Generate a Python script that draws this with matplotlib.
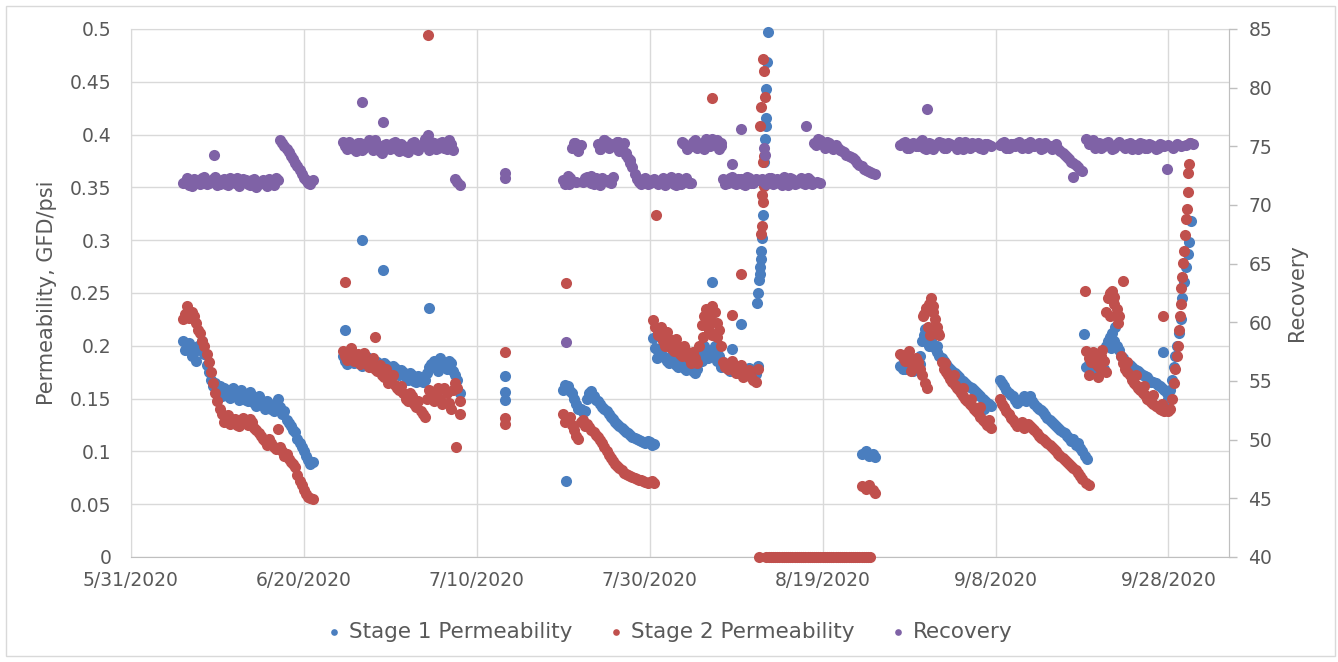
import numpy as np
import pandas as pd
import matplotlib
matplotlib.use("Agg")
import matplotlib.pyplot as plt
from matplotlib.patches import Rectangle

# ---- data (days counted from 5/31/2020) ----
start_date = "2020-05-31"
end_date = "2020-10-05"

seg_a_days = [6.0, 6.5, 7.0, 7.5, 8.0, 8.5, 9.0, 9.5, 10.0, 10.5, 11.0, 11.5, 12.0, 12.5, 13.0, 13.5,
              14.0, 14.5, 15.0, 15.5, 16.0, 16.5, 17.0, 17.5, 18.0, 18.5, 19.0, 19.5, 20.0, 20.5, 21.0]
seg_a_stage1 = [0.205, 0.198, 0.19, 0.186, 0.198, 0.192, 0.175, 0.162, 0.158, 0.152, 0.158, 0.151, 0.157, 0.149,
                0.155, 0.148, 0.152, 0.143, 0.149, 0.14, 0.145, 0.138, 0.15, 0.135, 0.13, 0.124, 0.118, 0.108,
                0.1, 0.092, 0.09]
seg_a_stage2 = [0.225, 0.238, 0.232, 0.222, 0.212, 0.2, 0.185, 0.165, 0.148, 0.135, 0.13, 0.126, 0.131, 0.124,
                0.132, 0.125, 0.128, 0.12, 0.115, 0.11, 0.112, 0.104, 0.121, 0.1, 0.098, 0.09, 0.085, 0.072,
                0.063, 0.057, 0.055]
seg_a_recovery = [71.9, 72.3, 71.6, 72.1, 71.8, 72.4, 71.9, 72.2, 71.7, 72.1, 71.8, 72.3, 71.9, 71.6, 72.2,
                  71.8, 72.1, 71.5, 72.0, 71.9, 72.2, 71.7, 72.1, 75.3, 74.8, 74.2, 73.6, 73.0, 72.3, 71.9, 72.1]
seg_a2_days = [6.25, 6.75, 7.25, 7.75, 8.25, 8.75, 9.25, 9.75, 10.25, 10.75, 11.25, 11.75, 12.25, 12.75,
               13.25, 13.75, 14.25, 14.75, 15.25, 15.75, 16.25, 16.75, 17.25, 17.75, 18.25, 18.75, 19.25,
               19.75, 20.25, 20.75]
seg_a2_stage1 = [0.196, 0.203, 0.194, 0.2, 0.205, 0.182, 0.168, 0.165, 0.162, 0.16, 0.152, 0.16, 0.152, 0.158,
                 0.149, 0.156, 0.146, 0.152, 0.144, 0.148, 0.14, 0.146, 0.142, 0.138, 0.127, 0.12, 0.112,
                 0.104, 0.096, 0.088]
seg_a2_stage2 = [0.23, 0.226, 0.228, 0.215, 0.205, 0.192, 0.175, 0.155, 0.14, 0.128, 0.134, 0.129, 0.125, 0.13,
                 0.127, 0.131, 0.122, 0.117, 0.112, 0.106, 0.108, 0.102, 0.104, 0.096, 0.093, 0.088, 0.078,
                 0.068, 0.06, 0.056]
seg_a2_recovery = [72.0, 71.7, 72.2, 71.9, 72.3, 71.8, 72.0, 72.4, 71.8, 72.2, 71.7, 72.0, 72.3, 71.9, 72.1,
                   71.7, 72.2, 71.8, 72.1, 71.6, 72.0, 72.3, 75.5, 75.0, 74.5, 73.9, 73.3, 72.6, 72.1, 71.8]

seg_b_days = [24.5, 25.0, 25.5, 26.0, 26.5, 27.0, 27.5, 28.0, 28.5, 29.0, 29.5, 30.0, 30.5, 31.0, 31.5,
              32.0, 32.5, 33.0, 33.5, 34.0, 34.5, 35.0, 35.5, 36.0, 36.5, 37.0, 37.5, 38.0]
seg_b_stage1 = [0.19, 0.183, 0.192, 0.185, 0.188, 0.182, 0.187, 0.18, 0.185, 0.178, 0.182, 0.176, 0.179, 0.172,
                0.175, 0.168, 0.172, 0.166, 0.17, 0.168, 0.18, 0.186, 0.176, 0.185, 0.178, 0.184, 0.172, 0.155]
seg_b_stage2 = [0.195, 0.187, 0.198, 0.19, 0.183, 0.193, 0.18, 0.188, 0.176, 0.172, 0.178, 0.168, 0.163, 0.158,
                0.155, 0.148, 0.152, 0.142, 0.138, 0.133, 0.158, 0.148, 0.16, 0.145, 0.155, 0.14, 0.165, 0.148]
seg_b_recovery = [75.4, 74.8, 75.2, 74.6, 75.3, 74.9, 75.5, 74.7, 75.1, 74.4, 75.2, 74.8, 75.4, 74.6, 75.0,
                  74.5, 75.3, 74.8, 75.1, 75.6, 74.7, 75.3, 74.9, 75.4, 74.8, 75.2, 72.2, 71.7]
seg_b2_days = [24.75, 25.25, 25.75, 26.25, 26.75, 27.25, 27.75, 28.25, 28.75, 29.25, 29.75, 30.25, 30.75,
               31.25, 31.75, 32.25, 32.75, 33.25, 33.75, 34.25, 34.75, 35.25, 35.75, 36.25, 36.75, 37.25, 37.75]
seg_b2_stage1 = [0.186, 0.19, 0.184, 0.19, 0.181, 0.189, 0.181, 0.186, 0.179, 0.184, 0.176, 0.181, 0.174,
                 0.177, 0.17, 0.174, 0.167, 0.171, 0.166, 0.174, 0.183, 0.179, 0.188, 0.18, 0.186, 0.176, 0.168]
seg_b2_stage2 = [0.19, 0.195, 0.186, 0.192, 0.188, 0.184, 0.186, 0.178, 0.182, 0.17, 0.165, 0.172, 0.16, 0.162,
                 0.15, 0.155, 0.145, 0.148, 0.135, 0.15, 0.152, 0.155, 0.15, 0.16, 0.146, 0.158, 0.16]
seg_b2_recovery = [75.0, 75.4, 74.8, 75.3, 74.7, 75.2, 75.0, 75.5, 74.6, 75.1, 74.9, 75.3, 74.8, 75.2, 74.6,
                   75.0, 75.4, 74.7, 75.2, 75.0, 75.4, 74.8, 75.3, 74.9, 75.5, 74.7, 72.0]

seg_d_days = [50.0, 50.5, 51.0, 51.5, 52.0, 52.5, 53.0, 53.5, 54.0, 54.5, 55.0, 55.5, 56.0, 56.5, 57.0,
              57.5, 58.0, 58.5, 59.0, 59.5, 60.0, 60.5]
seg_d_stage1 = [0.158, 0.162, 0.155, 0.145, 0.14, 0.138, 0.155, 0.152, 0.148, 0.142, 0.138, 0.133, 0.128,
                0.124, 0.12, 0.117, 0.114, 0.112, 0.11, 0.108, 0.109, 0.107]
seg_d_stage2 = [0.135, 0.13, 0.125, 0.115, 0.128, 0.124, 0.123, 0.118, 0.114, 0.108, 0.1, 0.094, 0.088,
                0.084, 0.08, 0.078, 0.076, 0.074, 0.073, 0.071, 0.071, 0.07]
seg_d_recovery = [72.1, 72.5, 74.9, 72.0, 75.1, 72.3, 72.2, 71.8, 75.2, 72.3, 75.4, 71.9, 75.1, 74.6, 75.3,
                  74.0, 73.2, 72.2, 71.8, 72.3, 71.9, 72.2]
seg_d2_days = [50.25, 50.75, 51.25, 51.75, 52.25, 52.75, 53.25, 53.75, 54.25, 54.75, 55.25, 55.75, 56.25,
               56.75, 57.25, 57.75, 58.25, 58.75, 59.25, 59.75, 60.25]
seg_d2_stage1 = [0.163, 0.157, 0.15, 0.14, 0.137, 0.15, 0.157, 0.149, 0.145, 0.14, 0.135, 0.131, 0.126, 0.122,
                 0.118, 0.116, 0.113, 0.111, 0.109, 0.11, 0.106]
seg_d2_stage2 = [0.128, 0.133, 0.12, 0.112, 0.13, 0.126, 0.12, 0.116, 0.111, 0.104, 0.097, 0.091, 0.086, 0.082,
                 0.079, 0.077, 0.075, 0.073, 0.072, 0.07, 0.072]
seg_d2_recovery = [71.8, 72.3, 75.3, 74.7, 72.0, 72.4, 71.9, 72.3, 74.8, 75.5, 72.0, 75.0, 75.4, 74.9, 74.4,
                   73.6, 72.6, 72.0, 72.2, 71.8, 72.1]

seg_e_days = [61.0, 61.5, 62.0, 62.5, 63.0, 63.5, 64.0, 64.5, 65.0, 65.5, 66.0, 66.5, 67.0, 67.5, 68.0,
              68.5, 69.0, 69.5, 70.0, 70.5, 71.0, 71.5, 72.0, 72.5]
seg_e_stage1 = [0.195, 0.19, 0.186, 0.189, 0.182, 0.185, 0.179, 0.182, 0.176, 0.178, 0.186, 0.196, 0.192,
                0.2, 0.19, 0.185, 0.178, 0.183, 0.176, 0.18, 0.175, 0.179, 0.176, 0.181]
seg_e_stage2 = [0.212, 0.205, 0.213, 0.198, 0.206, 0.192, 0.2, 0.188, 0.194, 0.184, 0.22, 0.235, 0.225,
                0.232, 0.215, 0.185, 0.178, 0.186, 0.174, 0.182, 0.172, 0.177, 0.168, 0.178]
seg_e_recovery = [71.8, 72.3, 71.9, 72.4, 71.7, 72.1, 75.2, 71.9, 75.4, 74.9, 75.3, 75.6, 75.0, 75.4, 74.8,
                  72.2, 71.9, 72.4, 71.8, 72.2, 71.7, 72.3, 71.9, 72.1]
seg_e2_days = [61.25, 61.75, 62.25, 62.75, 63.25, 63.75, 64.25, 64.75, 65.25, 65.75, 66.25, 66.75, 67.25,
               67.75, 68.25, 68.75, 69.25, 69.75, 70.25, 70.75, 71.25, 71.75, 72.25]
seg_e2_stage1 = [0.198, 0.188, 0.184, 0.186, 0.18, 0.183, 0.177, 0.18, 0.174, 0.19, 0.2, 0.188, 0.196, 0.186,
                 0.18, 0.183, 0.176, 0.18, 0.174, 0.178, 0.173, 0.177, 0.173]
seg_e2_stage2 = [0.218, 0.2, 0.206, 0.195, 0.2, 0.19, 0.195, 0.184, 0.188, 0.2, 0.228, 0.218, 0.238, 0.208,
                 0.2, 0.18, 0.183, 0.177, 0.179, 0.17, 0.176, 0.17, 0.166]
seg_e2_recovery = [72.1, 71.7, 72.2, 71.8, 72.3, 75.4, 72.0, 75.0, 75.5, 75.1, 74.8, 75.2, 75.6, 75.1, 75.3,
                   71.8, 72.3, 71.9, 72.2, 71.8, 72.4, 71.9, 72.2]

seg_f_days = [73.0, 73.5, 74.0, 74.5, 75.0, 75.5, 76.0, 76.5, 77.0, 77.5, 78.0, 78.5, 79.0, 79.5, 80.0,
              80.5, 81.0, 81.5, 82.0, 82.5, 83.0, 83.5, 84.0, 84.5, 85.0, 85.5, 86.0]
seg_f_recovery = [72.2, 71.8, 72.3, 71.9, 72.1, 72.4, 71.7, 72.2, 71.9, 72.3, 71.8, 72.1, 75.3, 75.6, 75.2,
                  75.4, 75.0, 75.1, 74.7, 74.5, 74.2, 74.0, 73.6, 73.3, 73.0, 72.8, 72.6]
seg_f2_days = [73.25, 73.75, 74.25, 74.75, 75.25, 75.75, 76.25, 76.75, 77.25, 77.75, 78.25, 78.75, 79.25,
               79.75, 80.25, 80.75, 81.25, 81.75, 82.25, 82.75, 83.25, 83.75, 84.25, 84.75, 85.25, 85.75]
seg_f2_recovery = [72.0, 72.3, 71.8, 72.2, 71.7, 72.0, 72.3, 71.8, 72.1, 71.9, 72.3, 71.8, 75.1, 75.5, 74.9,
                   75.3, 74.8, 74.9, 74.6, 74.3, 74.1, 73.8, 73.4, 73.1, 72.9, 72.7]
# stage 2 reads zero while the unit was down
zero_days = [72.6, 73.5, 73.75, 74.0, 74.25, 74.5, 74.75, 75.0, 75.25, 75.5, 75.75, 76.0, 76.25, 76.5,
             76.75, 77.0, 77.25, 77.5, 77.75, 78.0, 78.25, 78.5, 78.75, 79.0, 79.25, 79.5, 79.75, 80.0,
             80.25, 80.5, 80.75, 81.0, 81.25, 81.5, 81.75, 82.0, 82.25, 82.5, 82.75, 83.0, 83.25, 83.5,
             83.75, 84.0, 84.25, 84.5, 84.75, 85.0, 85.25, 85.5]
blip_days = [84.6, 85.0, 85.4, 85.8, 86.1]
blip_stage1 = [0.098, 0.1, 0.096, 0.098, 0.095]
blip_stage2 = [0.067, 0.064, 0.068, 0.063, 0.061]

seg_g_days = [89.0, 89.5, 90.0, 90.5, 91.0, 91.5, 92.0, 92.5, 93.0, 93.5, 94.0, 94.5, 95.0, 95.5, 96.0,
              96.5, 97.0, 97.5, 98.0, 98.5, 99.0, 99.5]
seg_g_stage1 = [0.181, 0.178, 0.182, 0.176, 0.18, 0.205, 0.212, 0.205, 0.198, 0.19, 0.186, 0.18, 0.176,
                0.172, 0.168, 0.165, 0.161, 0.158, 0.154, 0.15, 0.146, 0.143]
seg_g_stage2 = [0.192, 0.186, 0.195, 0.18, 0.185, 0.172, 0.236, 0.245, 0.225, 0.21, 0.178, 0.172, 0.166,
                0.16, 0.155, 0.15, 0.145, 0.14, 0.136, 0.13, 0.125, 0.122]
seg_g_recovery = [75.1, 75.4, 74.9, 75.3, 75.0, 75.5, 74.8, 75.2, 75.0, 75.4, 74.9, 75.3, 75.1, 74.8, 75.2,
                  75.4, 74.9, 75.1, 75.3, 74.8, 75.2, 75.0]
seg_g2_days = [89.25, 89.75, 90.25, 90.75, 91.25, 91.75, 92.25, 92.75, 93.25, 93.75, 94.25, 94.75, 95.25,
               95.75, 96.25, 96.75, 97.25, 97.75, 98.25, 98.75, 99.25]
seg_g2_stage1 = [0.178, 0.183, 0.177, 0.181, 0.19, 0.21, 0.2, 0.2, 0.194, 0.188, 0.183, 0.178, 0.174, 0.17,
                 0.167, 0.163, 0.16, 0.156, 0.152, 0.148, 0.145]
seg_g2_stage2 = [0.189, 0.192, 0.184, 0.188, 0.178, 0.23, 0.24, 0.238, 0.218, 0.185, 0.175, 0.169, 0.163,
                 0.158, 0.152, 0.148, 0.143, 0.138, 0.133, 0.128, 0.124]
seg_g2_recovery = [75.3, 74.9, 75.2, 75.0, 75.4, 74.9, 75.3, 74.8, 75.1, 75.3, 74.9, 75.2, 75.0, 75.4, 74.8,
                   75.1, 75.3, 75.0, 74.9, 75.2, 75.1]

seg_h_days = [100.5, 101.0, 101.5, 102.0, 102.5, 103.0, 103.5, 104.0, 104.5, 105.0, 105.5, 106.0, 106.5,
              107.0, 107.5, 108.0, 108.5, 109.0, 109.5, 110.0]
seg_h_stage1 = [0.168, 0.162, 0.155, 0.152, 0.146, 0.15, 0.148, 0.152, 0.145, 0.14, 0.137, 0.132, 0.128,
                0.124, 0.12, 0.117, 0.113, 0.112, 0.108, 0.1]
seg_h_stage2 = [0.15, 0.142, 0.135, 0.13, 0.124, 0.128, 0.125, 0.124, 0.12, 0.115, 0.112, 0.108, 0.104,
                0.1, 0.096, 0.092, 0.088, 0.084, 0.08, 0.074]
seg_h_recovery = [75.1, 75.4, 74.9, 75.2, 75.3, 74.9, 75.2, 75.4, 75.0, 75.3, 74.9, 75.1, 74.8, 75.2, 74.6,
                  74.3, 73.9, 73.6, 73.2, 72.9]
seg_h2_days = [100.75, 101.25, 101.75, 102.25, 102.75, 103.25, 103.75, 104.25, 104.75, 105.25, 105.75,
               106.25, 106.75, 107.25, 107.75, 108.25, 108.75, 109.25, 109.75]
seg_h2_stage1 = [0.165, 0.158, 0.153, 0.149, 0.148, 0.152, 0.15, 0.148, 0.142, 0.139, 0.134, 0.13, 0.126,
                 0.122, 0.118, 0.115, 0.11, 0.106, 0.103]
seg_h2_stage2 = [0.145, 0.138, 0.132, 0.127, 0.126, 0.122, 0.126, 0.122, 0.117, 0.113, 0.11, 0.106, 0.102,
                 0.098, 0.094, 0.09, 0.086, 0.082, 0.077]
seg_h2_recovery = [75.3, 74.9, 75.2, 75.0, 75.4, 75.1, 74.9, 75.2, 75.1, 74.8, 75.3, 75.0, 74.9, 74.8, 74.4,
                   74.1, 73.7, 73.4, 73.0]

seg_i_days = [110.5, 111.0, 111.5, 112.0, 112.5, 113.0, 113.5, 114.0, 114.5, 115.0, 115.5, 116.0, 116.5,
              117.0, 117.5, 118.0, 118.5, 119.0, 119.5]
seg_i_stage1 = [0.18, 0.176, 0.182, 0.174, 0.178, 0.205, 0.212, 0.2, 0.19, 0.185, 0.182, 0.178, 0.176,
                0.172, 0.17, 0.166, 0.165, 0.162, 0.158]
seg_i_stage2 = [0.195, 0.185, 0.19, 0.18, 0.186, 0.245, 0.252, 0.235, 0.19, 0.178, 0.172, 0.165, 0.16,
                0.155, 0.15, 0.147, 0.143, 0.14, 0.138]
seg_i_recovery = [75.6, 75.2, 74.9, 75.3, 75.0, 75.4, 74.8, 75.2, 75.1, 74.9, 75.3, 75.0, 74.8, 75.2, 74.9,
                  75.1, 74.8, 75.2, 75.0]
seg_i2_days = [110.75, 111.25, 111.75, 112.25, 112.75, 113.25, 113.75, 114.25, 114.75, 115.25, 115.75,
               116.25, 116.75, 117.25, 117.75, 118.25, 118.75, 119.25]
seg_i2_stage1 = [0.183, 0.178, 0.176, 0.18, 0.2, 0.208, 0.205, 0.196, 0.188, 0.184, 0.18, 0.177, 0.174, 0.171,
                 0.168, 0.166, 0.163, 0.16]
seg_i2_stage2 = [0.188, 0.194, 0.182, 0.19, 0.232, 0.25, 0.246, 0.228, 0.184, 0.175, 0.168, 0.163, 0.158,
                 0.153, 0.149, 0.145, 0.142, 0.139]
seg_i2_recovery = [75.2, 75.5, 75.0, 74.9, 75.3, 75.1, 74.9, 75.4, 75.0, 75.2, 74.8, 75.1, 75.3, 74.9, 75.2,
                   75.0, 74.9, 75.1]

rise_stage1_days = [119.8, 120.0, 120.2, 120.4, 120.6, 120.8, 121.0, 121.2, 121.4, 121.6, 121.8, 122.0,
                    122.2, 122.4, 122.6]
rise_stage1 = [0.155, 0.15, 0.158, 0.168, 0.18, 0.19, 0.2, 0.212, 0.225, 0.245, 0.26, 0.275, 0.287, 0.298,
               0.318]
rise_stage2_days = [120.0, 120.2, 120.4, 120.6, 120.8, 121.0, 121.1, 121.2, 121.3, 121.4, 121.5, 121.6,
                    121.7, 121.8, 121.9, 122.0, 122.1, 122.2, 122.3, 122.4, 122.5]
rise_stage2 = [0.138, 0.14, 0.15, 0.165, 0.178, 0.19, 0.2, 0.215, 0.228, 0.24, 0.255, 0.265, 0.278, 0.29,
               0.305, 0.32, 0.33, 0.346, 0.364, 0.372, 0.392]

# scattered readings, spikes and overlapping clusters
stage1_extra_days = [24.7, 26.7, 29.2, 34.5, 43.3, 43.3, 43.3, 50.3, 60.4, 60.6, 60.8, 66.2, 67.2, 67.8,
                     69.5, 70.5, 72.4, 72.5, 72.6, 72.7, 72.8, 72.85, 72.9, 73.0, 73.1, 73.2, 73.3, 73.4,
                     73.45, 73.5, 73.6, 73.7, 91.3, 91.8, 93.2, 98.7, 110.2, 110.4, 110.6, 113.3, 113.8,
                     119.4]
stage1_extra = [0.215, 0.30, 0.272, 0.236, 0.171, 0.156, 0.149, 0.072, 0.207, 0.198, 0.188, 0.2, 0.26, 0.19,
                0.197, 0.221, 0.241, 0.25, 0.262, 0.268, 0.275, 0.282, 0.29, 0.302, 0.324, 0.374, 0.396,
                0.408, 0.416, 0.443, 0.469, 0.497, 0.183, 0.216, 0.2, 0.14, 0.211, 0.096, 0.093, 0.198,
                0.218, 0.194]
stage2_extra_days = [24.7, 28.2, 34.4, 37.6, 38.0, 43.3, 43.3, 43.3, 50.3, 60.4, 60.6, 60.7, 60.9, 66.2,
                     66.6, 66.8, 67.2, 67.2, 67.8, 69.5, 70.5, 72.9, 73.0, 73.1, 73.0, 73.2, 73.1, 73.2,
                     72.8, 72.9, 73.3, 73.2, 73.1, 90.2, 91.6, 91.8, 92.1, 92.2, 92.4, 92.8, 93.3, 94.2,
                     95.2, 96.2, 97.2, 98.2, 99.2, 110.4, 110.5, 110.8, 110.8, 111.8, 112.3, 112.8, 113.2,
                     113.7, 114.2, 114.7, 115.2, 116.2, 117.2, 118.2, 119.2, 119.4]
stage2_extra = [0.26, 0.208, 0.494, 0.104, 0.135, 0.194, 0.132, 0.126, 0.259, 0.224, 0.218, 0.324, 0.21,
                0.208, 0.228, 0.214, 0.21, 0.435, 0.222, 0.229, 0.268, 0.306, 0.313, 0.336, 0.343, 0.351,
                0.374, 0.38, 0.408, 0.426, 0.436, 0.46, 0.472, 0.176, 0.228, 0.165, 0.16, 0.218, 0.21,
                0.232, 0.212, 0.184, 0.172, 0.16, 0.15, 0.142, 0.13, 0.252, 0.07, 0.068, 0.172, 0.17,
                0.196, 0.175, 0.228, 0.24, 0.222, 0.261, 0.185, 0.172, 0.162, 0.153, 0.145, 0.228]
recovery_extra_days = [9.6, 26.7, 29.2, 34.3, 43.3, 43.3, 50.3, 50.7, 51.3, 51.7, 53.2, 53.8, 54.2, 54.3,
                       54.7, 55.2, 55.3, 55.7, 55.8, 56.3, 56.8, 57.3, 57.7, 63.6, 63.8, 64.2, 64.3, 64.8,
                       65.8, 66.8, 67.8, 68.3, 69.5, 70.5, 73.2, 73.3, 78.1, 79.3, 79.7, 92.1, 108.9, 119.8,
                       120.0, 120.5, 121.0, 121.5, 122.0, 122.5, 122.8]
recovery_extra = [74.3, 78.8, 77.1, 76.0, 72.3, 72.7, 58.3, 71.8, 75.3, 74.6, 72.5, 72.0, 71.7, 74.8, 75.5,
                  72.1, 74.9, 75.2, 72.4, 75.4, 75.0, 74.3, 73.8, 71.8, 75.3, 72.3, 74.8, 71.9, 75.0, 75.3,
                  75.5, 75.0, 73.5, 76.5, 74.9, 74.3, 76.7, 72.0, 71.9, 78.2, 72.4, 73.1, 75.1, 74.9, 75.2,
                  75.0, 75.1, 75.3, 75.2]

tick_dates = ["2020-05-31", "2020-06-20", "2020-07-10", "2020-07-30", "2020-08-19", "2020-09-08", "2020-09-28"]
tick_labels = ["5/31/2020", "6/20/2020", "7/10/2020", "7/30/2020", "8/19/2020", "9/8/2020", "9/28/2020"]
left_ticks = [0, 0.05, 0.1, 0.15, 0.2, 0.25, 0.3, 0.35, 0.4, 0.45, 0.5]
left_labels = ["0", "0.05", "0.1", "0.15", "0.2", "0.25", "0.3", "0.35", "0.4", "0.45", "0.5"]
right_ticks = [40, 45, 50, 55, 60, 65, 70, 75, 80, 85]


def to_dates(days):
    return pd.Timestamp(start_date) + pd.to_timedelta(np.asarray(days, dtype=float), unit="D")


stage1_days = (seg_a_days + seg_a2_days + seg_b_days + seg_b2_days + seg_d_days + seg_d2_days + seg_e_days
               + seg_e2_days + blip_days + seg_g_days + seg_g2_days + seg_h_days + seg_h2_days + seg_i_days
               + seg_i2_days + rise_stage1_days + stage1_extra_days)
stage1_vals = (seg_a_stage1 + seg_a2_stage1 + seg_b_stage1 + seg_b2_stage1 + seg_d_stage1 + seg_d2_stage1
               + seg_e_stage1 + seg_e2_stage1 + blip_stage1 + seg_g_stage1 + seg_g2_stage1 + seg_h_stage1
               + seg_h2_stage1 + seg_i_stage1 + seg_i2_stage1 + rise_stage1 + stage1_extra)
stage2_days = (seg_a_days + seg_a2_days + seg_b_days + seg_b2_days + seg_d_days + seg_d2_days + seg_e_days
               + seg_e2_days + zero_days + blip_days + seg_g_days + seg_g2_days + seg_h_days + seg_h2_days
               + seg_i_days + seg_i2_days + rise_stage2_days + stage2_extra_days)
stage2_vals = (seg_a_stage2 + seg_a2_stage2 + seg_b_stage2 + seg_b2_stage2 + seg_d_stage2 + seg_d2_stage2
               + seg_e_stage2 + seg_e2_stage2 + [0.0] * len(zero_days) + blip_stage2 + seg_g_stage2
               + seg_g2_stage2 + seg_h_stage2 + seg_h2_stage2 + seg_i_stage2 + seg_i2_stage2 + rise_stage2
               + stage2_extra)
recovery_days = (seg_a_days + seg_a2_days + seg_b_days + seg_b2_days + seg_d_days + seg_d2_days + seg_e_days
                 + seg_e2_days + seg_f_days + seg_f2_days + seg_g_days + seg_g2_days + seg_h_days
                 + seg_h2_days + seg_i_days + seg_i2_days + recovery_extra_days)
recovery_vals = (seg_a_recovery + seg_a2_recovery + seg_b_recovery + seg_b2_recovery + seg_d_recovery
                 + seg_d2_recovery + seg_e_recovery + seg_e2_recovery + seg_f_recovery + seg_f2_recovery
                 + seg_g_recovery + seg_g2_recovery + seg_h_recovery + seg_h2_recovery + seg_i_recovery
                 + seg_i2_recovery + recovery_extra)

# ---- plot ----
plt.rcParams["font.family"] = "DejaVu Sans"
text_col = "#595959"
blue, red, purple = "#4A7EBF", "#C0504D", "#7F62A6"

fig = plt.figure(figsize=(13.38, 6.62), dpi=100)
fig.patches.append(Rectangle((6 / 1338, 6 / 662), 1329 / 1338, 650 / 662, transform=fig.transFigure,
                             fill=False, edgecolor="#D9D9D9", lw=1))
ax = fig.add_axes([131 / 1338, 1 - 557 / 662, 1098 / 1338, 528 / 662])

ms = 64
s1 = ax.scatter(to_dates(stage1_days), stage1_vals, s=ms, color=blue, lw=0, clip_on=False, zorder=3,
                label="Stage 1 Permeability")
s2 = ax.scatter(to_dates(stage2_days), stage2_vals, s=ms, color=red, lw=0, clip_on=False, zorder=4,
                label="Stage 2 Permeability")

ax.set_xlim(pd.Timestamp(start_date), pd.Timestamp(end_date))
ax.set_xticks(pd.to_datetime(tick_dates))
ax.set_xticklabels(tick_labels)
ax.set_ylim(0, 0.5)
ax.set_yticks(left_ticks)
ax.set_yticklabels(left_labels)
ax.grid(True, color="#D9D9D9", lw=1)
ax.set_axisbelow(True)
ax.tick_params(axis="x", length=0, pad=10, labelsize=13.5, labelcolor=text_col)
ax.tick_params(axis="y", length=0, pad=14, labelsize=13.5, labelcolor=text_col)
for side in ["left", "top", "right"]:
    ax.spines[side].set_color("#D9D9D9")
ax.spines["bottom"].set_color("#BFBFBF")

ax2 = ax.twinx()
s3 = ax2.scatter(to_dates(recovery_days), recovery_vals, s=ms, color=purple, lw=0, clip_on=False, zorder=3,
                 label="Recovery")
ax2.set_ylim(40, 85)
ax2.set_yticks(right_ticks)
ax2.tick_params(axis="y", length=6, width=1, color="#BFBFBF", pad=8, labelsize=13.5, labelcolor=text_col)
for side in ["left", "top", "bottom"]:
    ax2.spines[side].set_visible(False)
ax2.spines["right"].set_color("#BFBFBF")

fig.text(47 / 1338, 1 - 293 / 662, "Permeability, GFD/psi", rotation=90, ha="center", va="center",
         fontsize=15, color=text_col)
fig.text(1297 / 1338, 1 - 293 / 662, "Recovery", rotation=90, ha="center", va="center",
         fontsize=15, color=text_col)

fig.legend(handles=[s1, s2, s3], loc="center", bbox_to_anchor=(0.5, 1 - 632 / 662), ncol=3, frameon=False,
           fontsize=15.5, markerscale=0.6, handlelength=0.8, handletextpad=0.3, columnspacing=1.6,
           labelcolor=text_col)

fig.savefig("out.png", dpi=100)
